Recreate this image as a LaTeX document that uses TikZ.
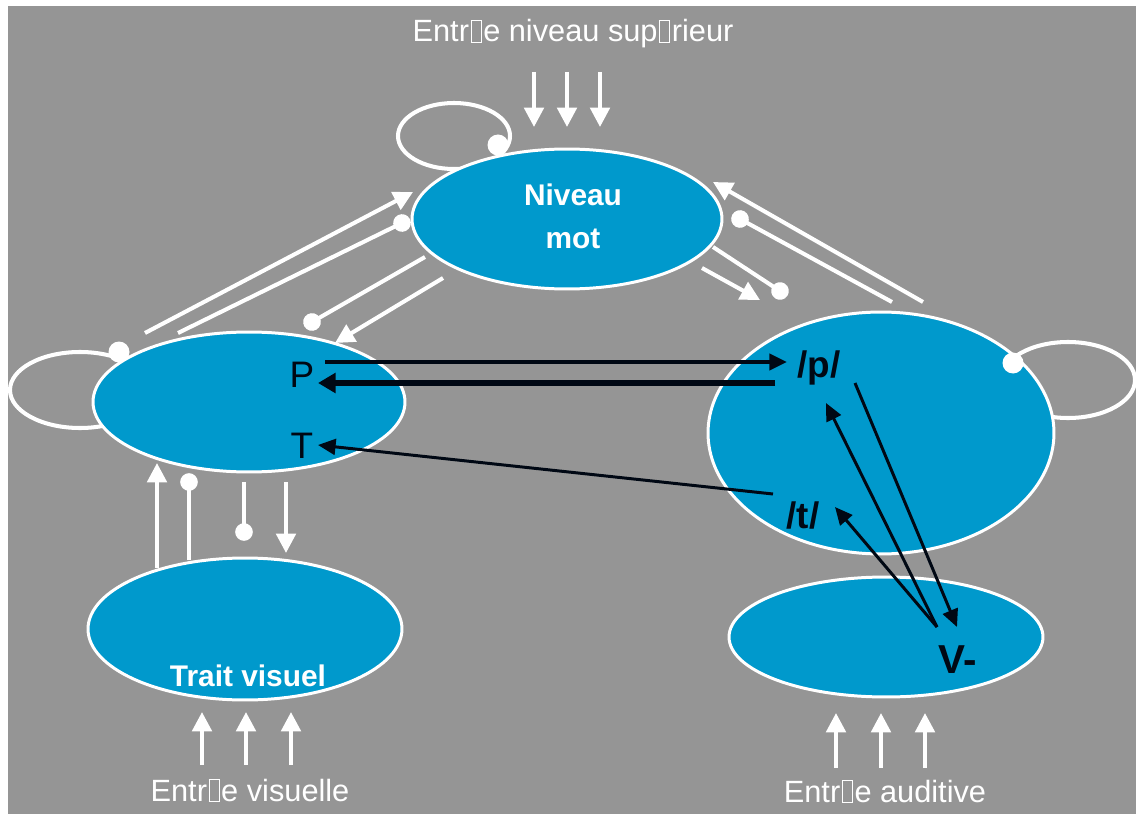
\documentclass[tikz,border=0pt]{standalone}
\usepackage{fontspec}
\setmainfont{Liberation Sans}
\usetikzlibrary{arrows.meta,shapes.geometric}
\definecolor{bggray}{RGB}{149,149,149}
\definecolor{unitblue}{RGB}{0,153,204}
\definecolor{inkblack}{RGB}{0,8,20}
% missing-glyph box as it appears in the labels
\newcommand\tofu{\hspace{0.05em}{\setlength{\fboxsep}{0pt}\setlength{\fboxrule}{0.55pt}\fbox{\rule{0pt}{0.68em}\hspace{0.3em}}}\hspace{0.05em}}
\begin{document}
\begin{tikzpicture}[x=0.02cm,y=-0.02cm,
  unit/.style={ellipse, draw=white, line width=1.7pt, fill=unitblue, inner sep=0pt},
  wline/.style={white, line width=2.3pt},
  warrow/.style={wline, -{Triangle[length=11pt,width=11pt]}},
  wdot/.style={wline, -{Circle[length=10pt]}, shorten >=-5pt},
  barrow/.style={inkblack, line width=1.7pt, -{Triangle[length=10pt,width=9pt]}},
  inlabel/.style={anchor=base, text=white, font=\fontsize{17.5pt}{20pt}\selectfont},
  wbold/.style={text=white, font=\bfseries\fontsize{17pt}{24.5pt}\selectfont, align=center},
  phon/.style={anchor=base, text=inkblack, font=\bfseries\fontsize{21pt}{24pt}\selectfont},
  graph/.style={anchor=base, text=inkblack, font=\fontsize{21pt}{24pt}\selectfont},
  dotmark/.style={white},
]
\useasboundingbox (0,0) rectangle (1136,814);
\fill[white] (0,0) rectangle (1136,814);
\fill[bggray] (8,6) rectangle (1136,814);

% self-loops (drawn first, the units cover their inner halves)
\coordinate (loopNM) at (454,136);
\coordinate (loopL) at (80,390);
\coordinate (loopR) at (1068,380);
\draw[wline] (loopNM) ellipse [x radius=56, y radius=33];
\draw[wline] (loopL) ellipse [x radius=70, y radius=38];
\draw[wline] (loopR) ellipse [x radius=67, y radius=38];

% units
\node[unit, minimum width=6.2cm, minimum height=2.8cm] (nm) at (567,219) {};
\node[unit, minimum width=6.24cm, minimum height=2.8cm] (gr) at (249,402) {};
\node[unit, minimum width=6.92cm, minimum height=4.84cm] (ph) at (881,433) {};
\node[unit, minimum width=6.28cm, minimum height=2.84cm] (tv) at (245,629) {};
\node[unit, minimum width=6.28cm, minimum height=2.4cm] (au) at (886,637) {};

% inhibitory ends of the self-loops
\fill[dotmark] (498,145) circle [radius=10.5];
\fill[dotmark] (119,352) circle [radius=10.5];
\fill[dotmark] (1013,363) circle [radius=10.5];

% connector end points
\coordinate (a1s) at (145,333); \coordinate (a1e) at (413,192);
\coordinate (a2s) at (178,333); \coordinate (a2e) at (402,223);
\coordinate (a3s) at (425,257); \coordinate (a3e) at (312,322);
\coordinate (a4s) at (443,278); \coordinate (a4e) at (335,343);
\coordinate (b1s) at (923,302); \coordinate (b1e) at (713,182);
\coordinate (b2s) at (892,302); \coordinate (b2e) at (740,219);
\coordinate (b3s) at (713,247); \coordinate (b3e) at (780,291);
\coordinate (b4s) at (702,268); \coordinate (b4e) at (760,300);
\coordinate (c1s) at (157,568); \coordinate (c1e) at (157,463);
\coordinate (c2s) at (189,560); \coordinate (c2e) at (189,482);
\coordinate (c3s) at (244,482); \coordinate (c3e) at (244,532);
\coordinate (c4s) at (286,482); \coordinate (c4e) at (286,553);

% word level <-> letter level
\draw[warrow] (a1s) -- (a1e);
\draw[wdot] (a2s) -- (a2e);
\draw[wdot] (a3s) -- (a3e);
\draw[warrow] (a4s) -- (a4e);
% word level <-> phoneme level
\draw[warrow] (b1s) -- (b1e);
\draw[wdot] (b2s) -- (b2e);
\draw[wdot] (b3s) -- (b3e);
\draw[warrow] (b4s) -- (b4e);
% letter level <-> visual features
\draw[warrow] (c1s) -- (c1e);
\draw[wdot] (c2s) -- (c2e);
\draw[wdot] (c3s) -- (c3e);
\draw[warrow] (c4s) -- (c4e);

% external inputs
\node[inlabel] (topin) at (573,42) {Entr\tofu e niveau sup\tofu rieur};
\node[inlabel] (visin) at (250,801) {Entr\tofu e visuelle};
\node[inlabel] (audin) at (885,802) {Entr\tofu e auditive};
\foreach \xx [count=\i] in {534,567,600}
  \draw[warrow] (\xx,72) coordinate (t\i) -- (\xx,127);
\foreach \xx [count=\i] in {202,246,291}
  \draw[warrow] (\xx,765) coordinate (v\i) -- (\xx,712);
\foreach \xx [count=\i] in {836,881,925}
  \draw[warrow] (\xx,768) coordinate (u\i) -- (\xx,713);

% labels inside units
\node[wbold] (nmtext) at (573,216) {Niveau\\mot};
\node[wbold, anchor=base] (tvtext) at (248,686) {Trait visuel};
\node[graph] (P) at (302,387) {P};
\node[graph] (T) at (302,458) {T};
\node[phon] (pp) at (819,377) {/p/};
\node[phon] (tt) at (803,528) {/t/};
\node[phon, font=\bfseries\fontsize{23pt}{26pt}\selectfont] (V) at (958,673) {V-};

% grapheme <-> phoneme links
\coordinate (Pout) at (325,362); \coordinate (ppin) at (787,362);
\coordinate (ppout) at (775,383); \coordinate (Pin) at (318,383);
\coordinate (ttout) at (773,494); \coordinate (Tin) at (318,445);
\draw[barrow, line width=2.3pt] (Pout) -- (ppin);
\draw[barrow, line width=3.4pt, -{Triangle[length=10pt,width=11pt]}] (ppout) -- (Pin);
\draw[barrow] (ttout) -- (Tin);

% feature <-> phoneme links
\coordinate (Vout) at (937,627);
\coordinate (ppfromV) at (826,403);
\coordinate (ttfromV) at (835,507);
\coordinate (ppdown) at (855,383); \coordinate (Vin) at (957,627);
\draw[barrow] (Vout) -- (ppfromV);
\draw[barrow] (Vout) -- (ttfromV);
\draw[barrow] (ppdown) -- (Vin);
\end{tikzpicture}
\end{document}
